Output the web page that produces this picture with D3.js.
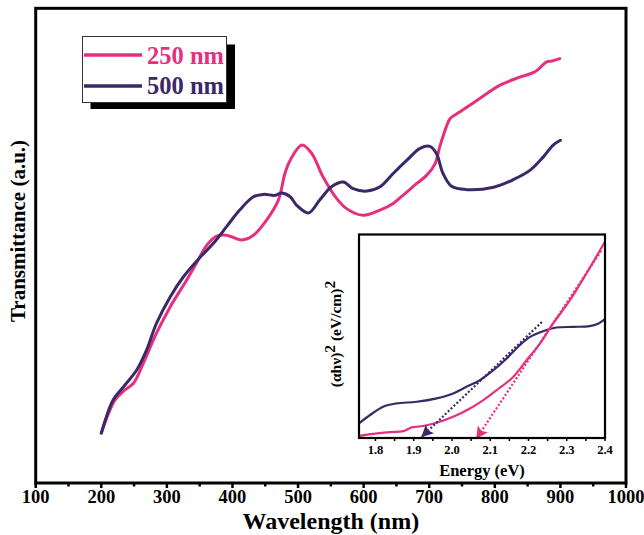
<!DOCTYPE html>
<html><head><meta charset="utf-8">
<script src="https://cdn.jsdelivr.net/npm/d3@7"></script>
<style>html,body{margin:0;padding:0;background:#fff;}svg{display:block;}</style>
</head><body><svg id="c" width="644" height="535"></svg>
<script>
// ---- data ----
const wl250 = [200,221,236,249,264,284,305,330,345,361,376,391,414,432,452,470,480,488,506,521,538,559,574,599,625,645,660,681,696,709,716,727,732,747,777,808,838,861,879,887,899];
const t250  = [10.5,17.5,19.6,21.0,25.2,31.5,37.1,42.7,46.3,50.1,52.0,52.2,51.2,52.2,55.4,59.6,65.2,68.0,71.2,69.4,64.5,59.9,57.8,56.4,57.5,58.9,60.6,63.1,64.8,67.3,70.8,75.4,76.8,78.2,81.0,83.8,85.5,86.6,88.7,88.9,89.4];
const wl500 = [200,218,234,254,269,284,305,325,351,371,391,411,432,447,465,475,488,498,516,533,551,569,584,605,625,645,666,686,701,711,721,734,757,798,828,854,874,889,900];
const t500  = [10.5,17.5,20.3,23.8,28.0,33.6,39.2,43.4,47.6,50.5,54.0,57.5,60.3,60.8,60.6,61.1,60.3,58.5,56.9,59.6,62.4,63.4,62.0,61.5,62.4,65.2,68.0,70.5,70.9,69.4,65.2,62.5,61.8,62.3,63.9,65.9,68.7,71.2,72.2];
const xTicks = [100,200,300,400,500,600,700,800,900,1000];
const seriesNames = ["250 nm","500 nm"];

// inset (Tauc plot)
const eV250 = [1.757,1.794,1.838,1.873,1.895,1.925,1.960,2.003,2.047,2.082,2.117,2.160,2.195,2.230,2.264,2.308,2.351,2.399];
const a250  = [1.0,2.0,2.9,3.4,5.2,5.9,7.5,10.4,14.5,18.6,23.5,30.0,38.2,46.4,56.2,67.6,80.7,96.2];
const eV500 = [1.757,1.786,1.820,1.855,1.908,1.960,2.003,2.038,2.073,2.108,2.143,2.177,2.204,2.238,2.273,2.317,2.360,2.382,2.399];
const a500  = [7.2,11.3,15.4,17.0,17.8,19.5,21.9,25.2,28.4,33.3,39.1,45.6,49.7,52.5,54.3,54.6,55.0,56.2,58.3];
const fit250E = [2.065,2.39], fit250A = [0,92];
const fit500E = [1.922,2.235], fit500A = [0.8,57];
const insetTicks = [1.8,1.9,2.0,2.1,2.2,2.3,2.4];

const PINK = "#e6307f", NAVY = "#3a2868";
const FONT = "'Liberation Serif','Times New Roman',serif";

const svg = d3.select("#c");
const defs = svg.append("defs");
const M = {l:35.7, r:626, t:8.3, b:483};
const x = d3.scaleLinear().domain([100,1000]).range([M.l, M.r]);
const y = d3.scaleLinear().domain([0,100]).range([M.b, M.t]);

// frame
svg.append("rect").attr("x",M.l).attr("y",M.t).attr("width",M.r-M.l).attr("height",M.b-M.t)
  .attr("fill","none").attr("stroke","#000").attr("stroke-width",3);

// x axis ticks
const minor = d3.range(150,1000,100);
svg.append("g").selectAll("line").data(xTicks).join("line")
  .attr("x1",d=>x(d)).attr("x2",d=>x(d)).attr("y1",M.b).attr("y2",M.b+5)
  .attr("stroke","#000").attr("stroke-width",2.5);
svg.append("g").selectAll("line").data(minor).join("line")
  .attr("x1",d=>x(d)).attr("x2",d=>x(d)).attr("y1",M.b).attr("y2",M.b+3.5)
  .attr("stroke","#000").attr("stroke-width",2.5);
svg.append("g").selectAll("text").data(xTicks).join("text")
  .attr("x",d=>x(d)).attr("y",503).attr("text-anchor","middle")
  .attr("font-family",FONT).attr("font-weight","bold").attr("font-size",18.5)
  .text(d=>d);
svg.append("text").attr("x",(M.l+M.r)/2).attr("y",529).attr("text-anchor","middle")
  .attr("font-family",FONT).attr("font-weight","bold").attr("font-size",24)
  .text("Wavelength (nm)");
svg.append("text").attr("transform","translate(25,231) rotate(-90)").attr("text-anchor","middle")
  .attr("font-family",FONT).attr("font-weight","bold").attr("font-size",21)
  .text("Transmittance (a.u.)");

// main curves
const line = d3.line().x(d=>x(d[0])).y(d=>y(d[1])).curve(d3.curveCatmullRom.alpha(0.5));
svg.append("path").datum(wl250.map((w,i)=>[w,t250[i]])).attr("d",line)
  .attr("fill","none").attr("stroke",PINK).attr("stroke-width",3).attr("stroke-linejoin","round").attr("stroke-linecap","round");
svg.append("path").datum(wl500.map((w,i)=>[w,t500[i]])).attr("d",line)
  .attr("fill","none").attr("stroke",NAVY).attr("stroke-width",3).attr("stroke-linejoin","round").attr("stroke-linecap","round");

// legend
const lg = svg.append("g");
lg.append("rect").attr("x",90.5).attr("y",44.5).attr("width",144.5).attr("height",64.5).attr("fill","#000");
lg.append("rect").attr("x",82.5).attr("y",36.5).attr("width",144).attr("height",66).attr("fill","#fff").attr("stroke","#333").attr("stroke-width",1);
[[PINK,55,63.5],[NAVY,86,94]].forEach((c,i)=>{
  lg.append("line").attr("x1",84).attr("x2",142).attr("y1",c[1]).attr("y2",c[1]).attr("stroke",c[0]).attr("stroke-width",3.5);
  lg.append("text").attr("x",147).attr("y",c[2]).attr("fill",c[0]).attr("font-family",FONT).attr("font-weight","bold").attr("font-size",24.5).text(seriesNames[i]);
});

// ---- inset ----
const I = {l:359, r:605, t:234.5, b:438};
const xi = d3.scaleLinear().domain([1.757,2.4]).range([I.l, I.r]);
const yi = d3.scaleLinear().domain([0,100]).range([I.b, I.t]);
const ig = svg.append("g");
ig.append("rect").attr("x",I.l).attr("y",I.t).attr("width",I.r-I.l).attr("height",I.b-I.t)
  .attr("fill","#fff").attr("stroke","none");
defs.append("clipPath").attr("id","ic")
  .append("rect").attr("x",I.l).attr("y",I.t).attr("width",I.r-I.l).attr("height",I.b-I.t);

[["arN",NAVY],["arP",PINK]].forEach(a=>{
  defs.append("marker").attr("id",a[0]).attr("viewBox","0 0 10 10").attr("refX",9).attr("refY",5)
    .attr("markerWidth",6).attr("markerHeight",5.5).attr("orient","auto").attr("markerUnits","strokeWidth")
    .append("path").attr("d","M0,0 L10,5 L0,10 L2,5 Z").attr("fill",a[1]);
});

const lineI = d3.line().x(d=>xi(d[0])).y(d=>yi(d[1])).curve(d3.curveCatmullRom.alpha(0.5));
const cg = ig.append("g").attr("clip-path","url(#ic)");
cg.append("path").datum(eV500.map((e,i)=>[e,a500[i]])).attr("d",lineI)
  .attr("fill","none").attr("stroke",NAVY).attr("stroke-width",2.2);
cg.append("path").datum(eV250.map((e,i)=>[e,a250[i]])).attr("d",lineI)
  .attr("fill","none").attr("stroke",PINK).attr("stroke-width",2.2);
// fit lines (drawn from top end toward arrow tip)
ig.append("line").attr("x1",xi(fit500E[1])).attr("y1",yi(fit500A[1])).attr("x2",xi(fit500E[0])).attr("y2",yi(fit500A[0]))
  .attr("stroke",NAVY).attr("stroke-width",2.2).attr("stroke-dasharray","2,2").attr("marker-end","url(#arN)");
ig.append("line").attr("x1",xi(fit250E[1])).attr("y1",yi(fit250A[1])).attr("x2",xi(fit250E[0])).attr("y2",yi(fit250A[0]))
  .attr("stroke",PINK).attr("stroke-width",2.2).attr("stroke-dasharray","2,2").attr("marker-end","url(#arP)");

ig.append("rect").attr("x",I.l).attr("y",I.t).attr("width",I.r-I.l).attr("height",I.b-I.t)
  .attr("fill","none").attr("stroke","#000").attr("stroke-width",2.2);
const iMinor = d3.range(1.8,2.41,0.05);
ig.append("g").selectAll("line").data(iMinor).join("line")
  .attr("x1",d=>xi(d)).attr("x2",d=>xi(d)).attr("y1",I.b).attr("y2",I.b+3)
  .attr("stroke","#000").attr("stroke-width",1.5);
ig.append("g").selectAll("text").data(insetTicks).join("text")
  .attr("x",d=>xi(d)).attr("y",454).attr("text-anchor","middle")
  .attr("font-family",FONT).attr("font-weight","bold").attr("font-size",12.5)
  .text(d=>d.toFixed(1));
ig.append("text").attr("x",(I.l+I.r)/2).attr("y",476).attr("text-anchor","middle")
  .attr("font-family",FONT).attr("font-weight","bold").attr("font-size",16.5)
  .text("Energy (eV)");
const yl = ig.append("text").attr("transform","translate(341,334) rotate(-90)").attr("text-anchor","middle")
  .attr("font-family",FONT).attr("font-weight","bold").attr("font-size",15.5);
yl.append("tspan").text("(αhν)");
yl.append("tspan").attr("dy",-6).text("2");
yl.append("tspan").attr("dy",6).text(" (eV/cm)");
yl.append("tspan").attr("dy",-6).text("2");
</script></body></html>
